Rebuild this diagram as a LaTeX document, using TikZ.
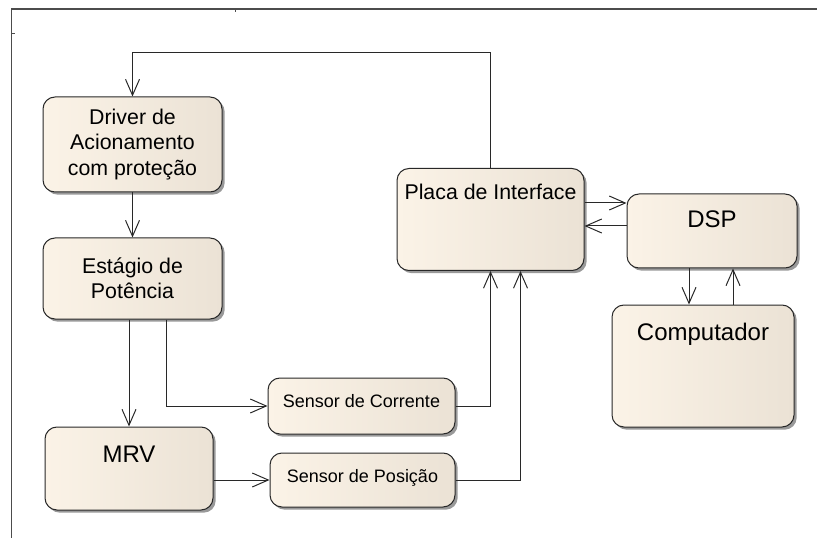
\documentclass[tikz,border=0pt]{standalone}
\usepackage{amsmath}
\usepackage{tikz}
\usepackage{xcolor}
\usepackage{fontspec}
\setmainfont{Liberation Sans}
\usetikzlibrary{arrows.meta,shadows,calc}
\definecolor{creamL}{RGB}{251,243,231}
\definecolor{creamR}{RGB}{235,226,213}
\definecolor{linegray}{RGB}{40,40,40}
\newcommand{\fbig}{\fontsize{18}{21}\selectfont}
\newcommand{\fmid}{\fontsize{16}{19}\selectfont}
\newcommand{\fsml}{\fontsize{13.5}{16}\selectfont}
\tikzstyle{blk} = [rectangle, rounded corners=9pt, draw=linegray, line width=0.75pt, left color=creamL, right color=creamR, inner sep=0pt, drop shadow={shadow xshift=2pt, shadow yshift=-2pt, opacity=0.4, fill=black}]

\begin{document}
\begin{tikzpicture}[x=0.75pt, y=-0.75pt]
\tikzset{arr/.style={draw=linegray, line width=0.75pt, -{Straight Barb[length=12pt,width=10.5pt]}}}
\useasboundingbox (0,0) rectangle (817,538);
% moldura
\draw[gray!60!black, line width=0.75pt] (11,538) -- (11,9);
\draw[gray!60!black, line width=1.5pt] (11,9) -- (817,9);
\draw[gray!60!black, line width=0.75pt] (11,34) -- (15,34);
\draw[gray!60!black, line width=0.75pt] (235,9) -- (235,12);

% blocos
\node[blk, minimum width=134.25pt, minimum height=71.25pt, align=center, font=\fmid] (drv) at (132.5,144.5) {Driver de\\Acionamento\\com proteção};
\node[blk, minimum width=134.25pt, minimum height=60.75pt, align=center, font=\fmid] (est) at (132.5,278.5) {Estágio de\\Potência};
\node[blk, minimum width=126pt, text height=26.25pt, text depth=36pt, font=\fbig] (mrv) at (129,468.5) {MRV};
\node[blk, minimum width=140.25pt, text height=21.75pt, text depth=20.25pt, font=\fsml] (sc) at (361.5,406) {Sensor de Corrente};
\node[blk, minimum width=138.75pt, text height=21.75pt, text depth=18.75pt, font=\fsml] (sp) at (362.5,480) {Sensor de Posição};
\node[blk, minimum width=140.25pt, text height=23.25pt, text depth=53.25pt, font=\fmid] (pla) at (490.5,219.5) {Placa de Interface};
\node[blk, minimum width=127.5pt, text height=25.5pt, text depth=30pt, font=\fbig] (dsp) at (712,231) {DSP};
\node[blk, minimum width=136.5pt, text height=26.25pt, text depth=65.25pt, font=\fbig] (comp) at (703,366) {Computador};

% ligacoes
\draw[arr] (pla.north) -- ++(0,-115.5) -| (drv.north);
\draw[arr] (drv.south) -- (est.north);
\draw[arr] (est.south -| mrv.north) -- (mrv.north);
\draw[arr] ($(est.south)+(33.5,0)$) |- (sc.west);
\draw[arr] (mrv.east |- sp.west) -- (sp.west);
\draw[arr] (sc.east) -| (pla.south);
\draw[arr] (sp.east) -| ($(pla.south)+(30,0)$);
\draw[arr] ($(pla.east)+(0,-16.5)$) coordinate (p1) -- (p1 -| dsp.west);
\draw[arr] ($(dsp.west)+(0,-5)$) coordinate (p2) -- (p2 -| pla.east);
\draw[arr] ($(dsp.south)+(-23,0)$) coordinate (p3) -- (p3 |- comp.north);
\draw[arr] ($(comp.north)+(30,0)$) coordinate (p4) -- (p4 |- dsp.south);

\end{tikzpicture}
\end{document}
